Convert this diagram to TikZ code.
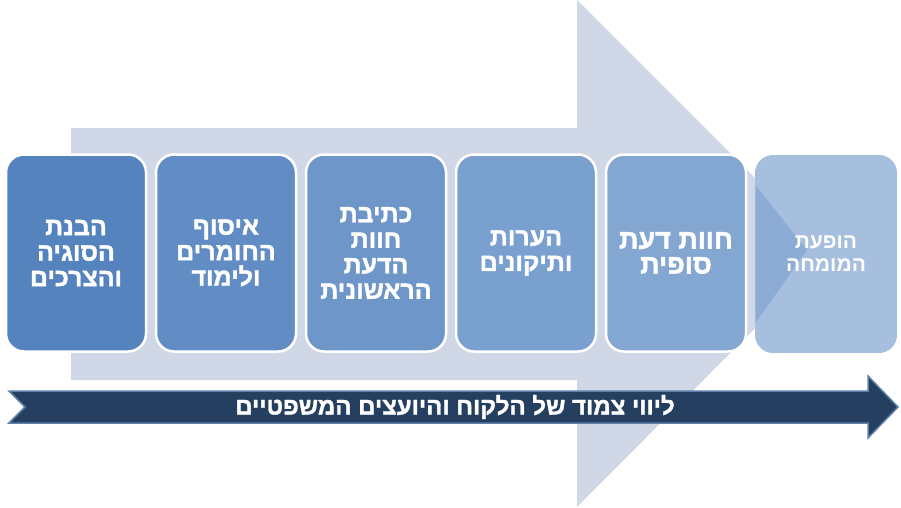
\documentclass[tikz,border=0pt]{standalone}
\usepackage{fontspec}
\newfontfamily\hebfont[Script=Hebrew]{Liberation Sans}
\newfontfamily\hebheavy[Script=Hebrew,FakeBold=1.5]{Liberation Sans Bold}
\TeXXeTstate=1
\newcommand{\RL}[1]{\beginR #1\endR}
\definecolor{bgarrow}{HTML}{D0D8E8}
\definecolor{cA}{HTML}{5583BE}
\definecolor{cB}{HTML}{628DC4}
\definecolor{cC}{HTML}{6E96C9}
\definecolor{cD}{HTML}{7AA0CF}
\definecolor{cE}{HTML}{84A7D2}
\definecolor{cF}{HTML}{A7BFDE}
\definecolor{cTri}{HTML}{8DACD5}
\definecolor{navy}{HTML}{243F60}
\definecolor{navyedge}{HTML}{5F80A8}
\tikzset{
  procbox/.style={rectangle, rounded corners=18pt, draw=white, line width=2.5pt,
    minimum width=140pt, minimum height=197pt, inner sep=0pt,
    text=white, align=center, font=\hebheavy\fontsize{25}{25.5}\selectfont},
  lastbox/.style={procbox, draw=none, minimum width=142pt, minimum height=198pt,
    font=\hebfont\bfseries\fontsize{21}{23}\selectfont},
  bandtext/.style={text=white, font=\hebheavy\fontsize{24}{24}\selectfont, inner sep=0pt}
}
\begin{document}
\begin{tikzpicture}[x=1pt,y=-1pt]
\useasboundingbox (0,0) rectangle (901,507);
% background big arrow
\fill[bgarrow] (71,128) -- (577,128) -- (577,0) -- (830,253) -- (577,507) -- (577,380) -- (71,380) -- cycle;
% process boxes
\node[procbox, fill=cA] (b1) at (76,253) {\RL{הבנת}\\\RL{הסוגיה}\\\RL{והצרכים}};
\node[procbox, fill=cB] (b2) at (226,253) {\RL{איסוף}\\\RL{החומרים}\\\RL{ולימוד}};
\node[procbox, fill=cC] (b3) at (376,253) {\RL{כתיבת}\\\RL{חוות}\\\RL{הדעת}\\\RL{הראשונית}};
\node[procbox, fill=cD] (b4) at (526,253) {\RL{הערות}\\\RL{ותיקונים}};
\node[procbox, fill=cE, font=\hebheavy\fontsize{27}{25}\selectfont] (b5) at (676,253) {\RL{חוות דעת}\\\RL{סופית}};
\node[lastbox, fill=cF] (b6) at (826,254) {};
\fill[cTri] (755.5,185) -- (807,250) -- (755.5,323) -- cycle;
\node[lastbox, fill=none] (b6t) at (826,254) {\RL{הופעת}\\\RL{המומחה}};
% bottom band arrow
\path[fill=navy, draw=navyedge, line width=1.5pt, line join=miter]
  (9,391) -- (868,391) -- (868,376) -- (898,407) -- (868,438) -- (868,423) -- (9,423) -- (25,407) -- cycle;
\node[bandtext] (band) at (455,407) {\RL{ליווי צמוד של הלקוח והיועצים המשפטיים}};
\end{tikzpicture}
\end{document}
